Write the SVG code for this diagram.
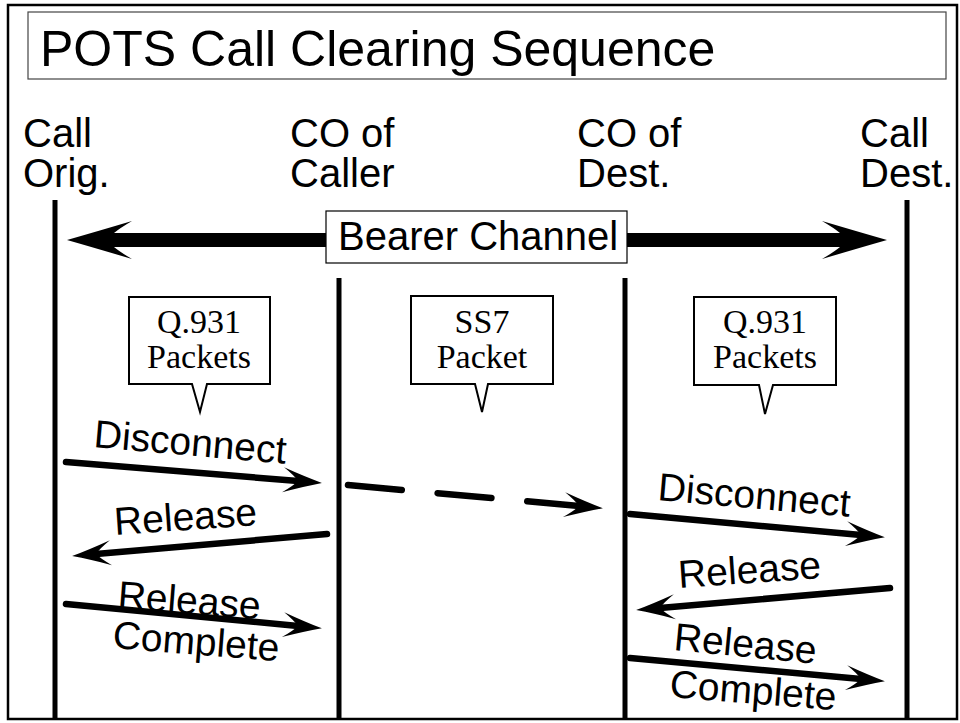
<svg xmlns="http://www.w3.org/2000/svg" width="960" height="723" viewBox="0 0 960 723">
  <style>
    .sans { font-family: "Liberation Sans", Arial, sans-serif; fill: #000; }
    .serif { font-family: "Liberation Serif", "Times New Roman", serif; fill: #000; }
    .hdr { font-size: 40px; }
    .msg { font-size: 39px; }
    .note { font-size: 34px; text-anchor: middle; }
    .life { stroke: #000; stroke-width: 5; fill: none; }
    .call { fill: #fff; stroke: #000; stroke-width: 2; stroke-linejoin: miter; }
    .flow { stroke: #000; stroke-width: 6.5; fill: none; stroke-linecap: round; marker-end: url(#head); }
    .dash { stroke-dasharray: 54 36; }
  </style>
  <defs>
    <!-- swept arrowhead; the line ends 24px behind the tip -->
    <marker id="head" markerUnits="userSpaceOnUse" viewBox="-42 -14 44 28" markerWidth="44" markerHeight="28" refX="-24" refY="0" orient="auto">
      <path d="M0,0 Q-18,-5 -39,-12.5 Q-28,-5 -24,0 Q-28,5 -39,12.5 Q-18,5 0,0 Z" fill="#000"/>
    </marker>
  </defs>

  <rect width="960" height="723" fill="#fff"/>
  <!-- frame -->
  <rect x="8" y="5" width="949" height="714" fill="none" stroke="#000" stroke-width="2.5"/>

  <!-- title -->
  <g id="title">
    <rect x="28" y="12" width="918" height="67" fill="none" stroke="#444" stroke-width="1.2"/>
    <text class="sans" x="40" y="66" font-size="50">POTS Call Clearing Sequence</text>
  </g>

  <!-- participants -->
  <g id="call-orig">
    <text class="sans hdr" x="23" y="147">Call</text>
    <text class="sans hdr" x="23" y="187">Orig.</text>
    <line class="life" x1="55" y1="200" x2="55" y2="719"/>
  </g>
  <g id="co-caller">
    <text class="sans hdr" x="290" y="147">CO of</text>
    <text class="sans hdr" x="290" y="187">Caller</text>
    <line class="life" x1="339" y1="278" x2="339" y2="719"/>
  </g>
  <g id="co-dest">
    <text class="sans hdr" x="577" y="147">CO of</text>
    <text class="sans hdr" x="577" y="187">Dest.</text>
    <line class="life" x1="625" y1="278" x2="625" y2="719"/>
  </g>
  <g id="call-dest">
    <text class="sans hdr" x="860" y="147">Call</text>
    <text class="sans hdr" x="860" y="187">Dest.</text>
    <line class="life" x1="907" y1="200" x2="907" y2="719"/>
  </g>

  <!-- bearer channel, double-headed -->
  <g id="bearer">
    <path d="M67,240 Q95,232 132,221 Q120,228 114,233 L335,233 L335,247 L114,247 Q120,252 132,259 Q95,248 67,240 Z" fill="#000"/>
    <path d="M887,240 Q859,232 822,221 Q834,228 840,233 L620,233 L620,247 L840,247 Q834,252 822,259 Q859,248 887,240 Z" fill="#000"/>
    <rect x="326" y="211" width="301" height="52" fill="#fff" stroke="#000" stroke-width="1.2"/>
    <text class="sans" x="338" y="250" font-size="40">Bearer Channel</text>
  </g>

  <!-- callouts -->
  <g id="note-q931-left">
    <path class="call" d="M129,297 H270 V384 H207 L200,412 L192,384 H129 Z"/>
    <text class="serif note" x="199" y="333">Q.931</text>
    <text class="serif note" x="199" y="368">Packets</text>
  </g>
  <g id="note-ss7">
    <path class="call" d="M411,296 H553 V384 H488 L482,412 L475,384 H411 Z"/>
    <text class="serif note" x="482" y="333">SS7</text>
    <text class="serif note" x="482" y="368">Packet</text>
  </g>
  <g id="note-q931-right">
    <path class="call" d="M694,297 H836 V385 H773 L765,414 L759,385 H694 Z"/>
    <text class="serif note" x="765" y="333">Q.931</text>
    <text class="serif note" x="765" y="368">Packets</text>
  </g>

  <!-- messages -->
  <g id="connectors">
    <line class="flow" x1="66" y1="462" x2="298" y2="481"/>
    <line class="flow" x1="327" y1="534" x2="96" y2="554"/>
    <line class="flow" x1="66" y1="604" x2="298" y2="626"/>
    <line class="flow dash" x1="348" y1="485" x2="579" y2="506"/>
    <line class="flow" x1="630" y1="514" x2="861" y2="535"/>
    <line class="flow" x1="890" y1="588" x2="660" y2="608"/>
    <line class="flow" x1="630" y1="658" x2="861" y2="679"/>
  </g>

  <g id="labels">
    <text class="sans msg" x="93" y="447" transform="rotate(5 93 447)">Disconnect</text>
    <text class="sans msg" x="115" y="535" transform="rotate(-4 115 535)">Release</text>
    <text class="sans msg" x="117" y="608" transform="rotate(4.5 117 608)">Release</text>
    <text class="sans msg" x="112" y="648" transform="rotate(4.5 112 648)">Complete</text>
    <text class="sans msg" x="657" y="500" transform="rotate(5 657 500)">Disconnect</text>
    <text class="sans msg" x="679" y="588" transform="rotate(-4 679 588)">Release</text>
    <text class="sans msg" x="673" y="650" transform="rotate(5.5 673 650)">Release</text>
    <text class="sans msg" x="669" y="697" transform="rotate(4.5 669 697)">Complete</text>
  </g>
</svg>
